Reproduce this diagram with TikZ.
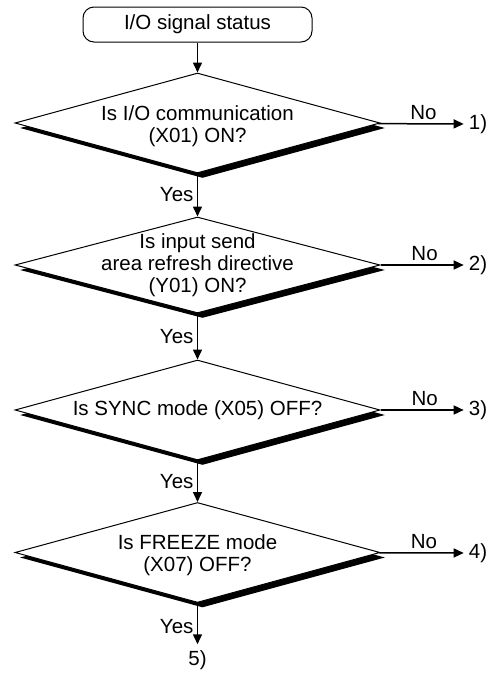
\documentclass[tikz,border=0pt]{standalone}
\usepackage{fontspec}
\setmainfont{Liberation Sans}
\usetikzlibrary{arrows.meta, shapes.geometric, shadows}

\begin{document}
\begin{tikzpicture}[
  x=1pt, y=-1pt,
  font=\fontsize{20.5}{22}\selectfont,
  start/.style={draw, rounded corners=11pt, line width=1pt,
                minimum width=229pt, minimum height=35pt, inner sep=0pt},
  dec/.style={draw, diamond, fill=white, line width=1pt,
              minimum width=365pt, minimum height=100pt, inner sep=0pt,
              drop shadow={shadow xshift=5pt, shadow yshift=-5pt,
                           opacity=1, fill=black}},
  arr/.style={-{Triangle[length=10pt, width=9pt]}, line width=1.5pt},
  exit/.style={inner sep=0pt},
]
\useasboundingbox (0,0) rectangle (489,673);
\node[start] (s) at (197.5,24.5) {I/O signal status};
\node[dec, label={[align=center, yshift=-3pt]center:Is I/O communication\\(X01) ON?}] (d1) at (197.5,123) {};
\node[dec, minimum height=96pt,
      label={[align=center]center:Is input send\\area refresh directive\\(Y01) ON?}] (d2) at (197.5,265) {};
\node[dec, label={[align=center]center:Is SYNC mode (X05) OFF?}] (d3) at (197.5,410) {};
\node[dec, label={[align=center, yshift=-3pt]center:Is FREEZE mode\\(X07) OFF?}] (d4) at (197.5,552.5) {};
\node[exit] (o1) at (478,124) {1)};
\node[exit] (o2) at (478,265) {2)};
\node[exit] (o3) at (478,410) {3)};
\node[exit] (o4) at (478,553) {4)};
\node[exit] (o5) at (197.5,660) {5)};
\draw[arr] (s) -- (d1);
\draw[arr] (d1) -- (d2) node[midway, left] {Yes};
\draw[arr] (d2) -- (d3) node[midway, left] {Yes};
\draw[arr] (d3) -- (d4) node[midway, left] {Yes};
\draw[arr, shorten >=6pt] (d4) -- (o5) node[midway, left] {Yes};
\draw[arr, shorten >=5pt] (d1) -- (o1) node[midway, above] {No};
\draw[arr, shorten >=5pt] (d2) -- (o2) node[midway, above] {No};
\draw[arr, shorten >=5pt] (d3) -- (o3) node[midway, above] {No};
\draw[arr, shorten >=5pt] (d4) -- (o4) node[midway, above] {No};
\end{tikzpicture}
\end{document}
